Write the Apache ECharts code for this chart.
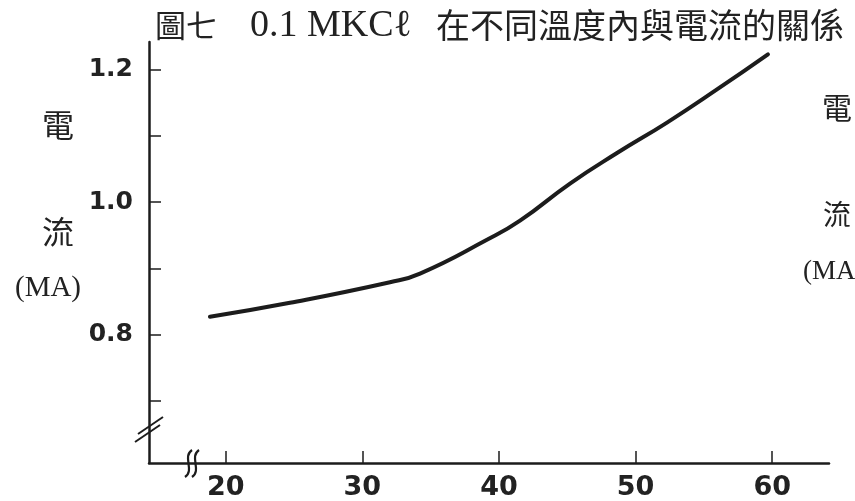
<!DOCTYPE html>
<html>
<head>
<meta charset="utf-8">
<script src="https://cdn.jsdelivr.net/npm/echarts@6/dist/echarts.min.js"></script>
<style>
  html, body { margin: 0; padding: 0; background: #fff; }
  #chart { width: 855px; height: 501px; }
</style>
</head>
<body>
<div id="chart"></div>
<script>
// Temperature (°C) and current (MA)
var temperatures = [18.84, 24.70, 32.02, 34.22, 39.12, 41.54, 45.20, 48.64, 52.30, 55.96, 59.69];
var currents     = [0.827, 0.848, 0.879, 0.892, 0.943, 0.972, 1.028, 1.074, 1.120, 1.170, 1.223];

var xTickValues  = [20, 30, 40, 50, 60];
var yTickValues  = [0.7, 0.8, 0.9, 1.0, 1.1, 1.2];
var yLabelValues = [0.8, 1.0, 1.2];

var titleParts = ['圖七', '0.1 MKCℓ', '在不同溫度內與電流的關係'];
var yNameParts = ['電', '流', '(MA)'];

var points = temperatures.map(function (t, i) { return [t, currents[i]]; });

var ink = '#1c1c1c';
var cjk = '"Noto Sans CJK TC", "Noto Sans CJK SC", sans-serif';
var serif = '"Liberation Serif", "DejaVu Serif", serif';
var numFont = '"DejaVu Sans", sans-serif';

var chart = echarts.init(document.getElementById('chart'), null, { renderer: 'canvas' });

var option = {
  backgroundColor: '#ffffff',
  animation: false,
  grid: { left: 149, right: 26, top: 42, bottom: 38, containLabel: false },
  xAxis: {
    type: 'value',
    min: 14.38,
    max: 64.16,
    axisLine: { show: true, lineStyle: { color: ink, width: 2.5 } },
    axisTick: { show: true, inside: true, length: 12, customValues: xTickValues, lineStyle: { color: ink, width: 1.5 } },
    axisLabel: {
      customValues: xTickValues, margin: 11,
      color: '#222', fontFamily: numFont, fontWeight: 'bold', fontSize: 27
    },
    splitLine: { show: false }
  },
  yAxis: {
    type: 'value',
    min: 0.6062,
    max: 1.2416,
    axisLine: { show: true, lineStyle: { color: ink, width: 2.5 } },
    axisTick: { show: true, inside: true, length: 12, customValues: yTickValues, lineStyle: { color: ink, width: 1.5 } },
    axisLabel: {
      customValues: yLabelValues, margin: 16,
      formatter: function (v) { return v.toFixed(1); },
      color: '#222', fontFamily: numFont, fontWeight: 'bold', fontSize: 25
    },
    splitLine: { show: false }
  },
  series: [{
    type: 'line',
    data: points,
    showSymbol: false,
    smooth: 0.5,
    lineStyle: { color: ink, width: 4, cap: 'round' }
  }],
  graphic: [
    // title
    { type: 'text', x: 155, y: 25, style: { text: titleParts[0], font: '31px ' + cjk, fill: '#222', verticalAlign: 'middle' } },
    { type: 'text', x: 250, y: 26, style: { text: titleParts[1], font: '38px ' + serif, fill: '#222', verticalAlign: 'middle' } },
    { type: 'text', x: 436, y: 25, style: { text: titleParts[2], font: '34px ' + cjk, fill: '#222', verticalAlign: 'middle' } },
    // left axis name
    { type: 'text', x: 58, y: 125, style: { text: yNameParts[0], font: '32px ' + cjk, fill: '#222', align: 'center', verticalAlign: 'middle' } },
    { type: 'text', x: 58, y: 232, style: { text: yNameParts[1], font: '32px ' + cjk, fill: '#222', align: 'center', verticalAlign: 'middle' } },
    { type: 'text', x: 48, y: 288, style: { text: yNameParts[2], font: '29px ' + serif, fill: '#222', align: 'center', verticalAlign: 'middle' } },
    // right (cut-off) axis name
    { type: 'text', x: 837, y: 108, style: { text: yNameParts[0], font: '30px ' + cjk, fill: '#222', align: 'center', verticalAlign: 'middle' } },
    { type: 'text', x: 837, y: 214, style: { text: yNameParts[1], font: '28px ' + cjk, fill: '#222', align: 'center', verticalAlign: 'middle' } },
    { type: 'text', x: 803, y: 272, style: { text: yNameParts[2], font: '27px ' + serif, fill: '#222', align: 'left', verticalAlign: 'middle' } },
    // y-axis break marks
    { type: 'line', shape: { x1: 135, y1: 442, x2: 160, y2: 425 }, style: { stroke: ink, lineWidth: 2 } },
    { type: 'line', shape: { x1: 138, y1: 434, x2: 163, y2: 417 }, style: { stroke: ink, lineWidth: 2 } },
    // x-axis break marks
    { type: 'bezierCurve', shape: { x1: 185, y1: 477, cpx1: 195, cpy1: 470, cpx2: 182, cpy2: 457, x2: 192, y2: 450 }, style: { stroke: ink, lineWidth: 2.2, fill: 'none' } },
    { type: 'bezierCurve', shape: { x1: 192, y1: 477, cpx1: 202, cpy1: 470, cpx2: 189, cpy2: 457, x2: 199, y2: 450 }, style: { stroke: ink, lineWidth: 2.2, fill: 'none' } }
  ]
};

chart.setOption(option);
</script>
</body>
</html>
